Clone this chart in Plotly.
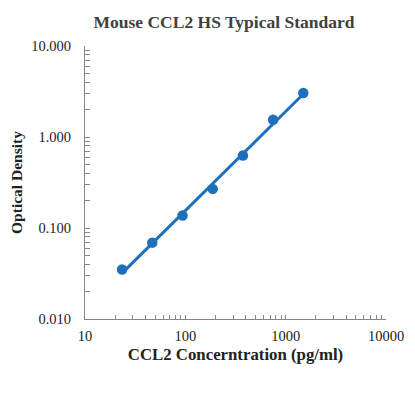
import numpy as np
import plotly.graph_objects as go

concentration = [23.44, 46.88, 93.75, 187.5, 375, 750, 1500]
optical_density = [0.035, 0.069, 0.137, 0.269, 0.627, 1.55, 3.05]
y_ticks = [0.01, 0.1, 1, 10]
y_tick_labels = ["0.010", "0.100", "1.000", "10.000"]
x_ticks = [10, 100, 1000, 10000]
x_tick_labels = ["10", "100", "1000", "10000"]

color = "#1f70bc"
serif = "Liberation Serif, Times New Roman, serif"

# log-log trendline
lx = np.log10(concentration)
ly = np.log10(optical_density)
b, a = np.polyfit(lx, ly, 1)
fit_x = [concentration[0], concentration[-1]]
fit_y = [10 ** (a + b * np.log10(v)) for v in fit_x]

minor_x = [m * 10 ** e for e in range(1, 4) for m in range(2, 10)]
minor_y = [m * 10 ** e for e in range(-2, 1) for m in range(2, 10)]

# page body has an 8px default margin, so the figure is sized to fit the window
W, H = 407, 389

fig = go.Figure()
fig.add_trace(go.Scatter(x=fit_x, y=fit_y, mode="lines",
                         line=dict(color=color, width=3), showlegend=False))
fig.add_trace(go.Scatter(x=concentration, y=optical_density, mode="markers",
                         marker=dict(color=color, size=10.5), showlegend=False))

fig.update_layout(
    width=W, height=H,
    margin=dict(l=77, r=29, t=38, b=78),
    paper_bgcolor="white", plot_bgcolor="white",
    title=dict(text="<b>Mouse CCL2 HS Typical Standard</b>", x=216 / W, xanchor="center",
               y=1 - 14 / H, yanchor="middle",
               font=dict(family=serif, size=17.5, color="#404040")),
    font=dict(family=serif, size=14.5, color="#222222"),
)
fig.update_xaxes(
    type="log", range=[1, 4], tickvals=x_ticks, ticktext=x_tick_labels,
    showline=True, linecolor="#888888", linewidth=1, showgrid=False, zeroline=False,
    ticks="inside", ticklen=4, tickcolor="#888888", ticklabelstandoff=4,
    minor=dict(tickvals=minor_x, ticks="inside", ticklen=4, tickcolor="#888888", showgrid=False),
    automargin=False,
    title=dict(text="<b>CCL2 Concerntration (pg/ml)</b>", font=dict(family=serif, size=16.8, color="#222222"),
               standoff=4),
)
fig.update_yaxes(
    type="log", range=[-2, 1], tickvals=y_ticks, ticktext=y_tick_labels,
    showline=True, linecolor="#888888", linewidth=1, showgrid=False, zeroline=False,
    ticks="inside", ticklen=5, tickcolor="#888888", ticklabelstandoff=10,
    minor=dict(tickvals=minor_y, ticks="inside", ticklen=5, tickcolor="#888888", showgrid=False),
    automargin=False,
    title=dict(text="<b>Optical Density</b>", font=dict(family=serif, size=15.5, color="#222222"),
               standoff=7),
)

fig.write_html("out.html")
